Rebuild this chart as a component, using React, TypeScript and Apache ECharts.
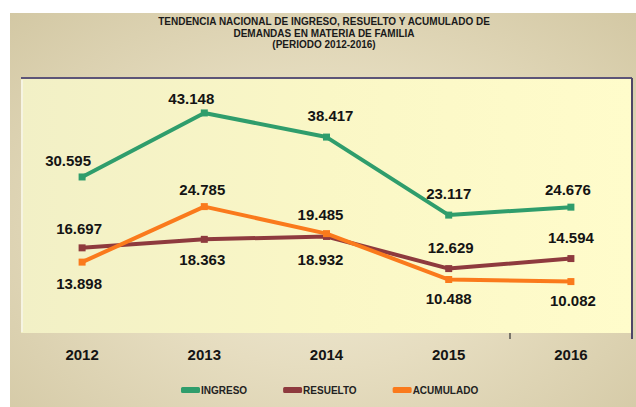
import React, { useEffect, useRef } from "react";
import * as echarts from "echarts";

const years = ["2012", "2013", "2014", "2015", "2016"];
const ingreso = [30595, 43148, 38417, 23117, 24676];
const resuelto = [16697, 18363, 18932, 12629, 14594];
const acumulado = [13898, 24785, 19485, 10488, 10082];
const titleLines = [
  "TENDENCIA NACIONAL DE INGRESO, RESUELTO Y ACUMULADO DE",
  "DEMANDAS EN MATERIA DE FAMILIA",
  "(PERIODO 2012-2016)",
];

// label offsets (label centre relative to point), pixels
const ingresoOff = [[-14, -16], [-13, -14], [4, -22], [0, -22], [-3, -18]];
const resueltoOff = [[-3, -19], [-2, 20], [-6, 23], [2, -21], [0, -21]];
const acumuladoOff = [[-3, 21], [-2, -17], [-6, -19], [0, 19], [2, 19]];

const fmt = (v: number) => {
  const s = String(v);
  return s.length > 3 ? s.slice(0, s.length - 3) + "." + s.slice(s.length - 3) : s;
};

function makeSeries(name: string, values: number[], offs: number[][], color: string) {
  return {
    name,
    type: "line",
    symbol: "rect",
    symbolSize: 7,
    lineStyle: { width: 4, color },
    itemStyle: { color },
    data: values.map((v, i) => ({
      value: v,
      label: { offset: offs[i] },
    })),
    label: {
      show: true,
      position: "inside",
      formatter: (p: any) => fmt(p.value),
      color: "#141414",
      fontSize: 15,
      fontWeight: "bold",
      fontFamily: "Liberation Sans, Arial, sans-serif",
    },
    z: 3,
  };
}

export default function App() {
  const ref = useRef<HTMLDivElement>(null);
  useEffect(() => {
    if (!ref.current) return;
    const chart = echarts.init(ref.current, undefined, { renderer: "svg" });
    chart.setOption({
      animation: false,
      backgroundColor: "transparent",
      grid: {
        left: 21,
        right: 4,
        top: 78,
        bottom: 74,
        show: true,
        borderWidth: 0,
        backgroundColor: {
          type: "linear",
          x: 0, y: 0, x2: 1, y2: 0,
          colorStops: [
            { offset: 0, color: "#F2F0C6" },
            { offset: 0.5, color: "#FAF7C6" },
            { offset: 1, color: "#FFFCCB" },
          ],
        },
      },
      xAxis: {
        type: "category",
        data: years,
        boundaryGap: true,
        axisLine: { show: false },
        axisTick: { show: false },
        axisLabel: {
          color: "#141414",
          fontSize: 15,
          fontWeight: "bold",
          fontFamily: "Liberation Sans, Arial, sans-serif",
          margin: 14,
        },
        splitLine: { show: false },
      },
      yAxis: {
        type: "value",
        min: 0,
        max: 50000,
        show: false,
      },
      legend: {
        data: ["INGRESO", "RESUELTO", "ACUMULADO"],
        left: 176,
        top: 380,
        itemWidth: 19,
        itemHeight: 6,
        itemGap: 36,
        icon: "roundRect",
        textStyle: {
          color: "#222",
          fontSize: 10,
          fontWeight: "bold",
          fontFamily: "Liberation Sans, Arial, sans-serif",
          padding: [0, 0, 0, -4],
        },
      },
      graphic: [
        {
          type: "text",
          x: 324,
          y: 16,
          z: 10,
          style: {
            text: titleLines.join("\n"),
            textAlign: "center",
            fill: "#1a1a1a",
            fontSize: 10,
            fontWeight: "bold",
            lineHeight: 11.5,
            fontFamily: "Liberation Sans, Arial, sans-serif",
          },
        },
        {
          type: "line",
          z: 10,
          shape: { x1: 21, y1: 78, x2: 632, y2: 78 },
          style: { stroke: "#5C5478", lineWidth: 2 },
        },
        {
          type: "line",
          z: 10,
          shape: { x1: 632, y1: 78, x2: 632, y2: 339 },
          style: { stroke: "#4E4668", lineWidth: 2 },
        },
        {
          type: "line",
          z: 10,
          shape: { x1: 22, y1: 80, x2: 22, y2: 332 },
          style: { stroke: "#F6F4E2", lineWidth: 2 },
        },
        {
          type: "line",
          z: 10,
          shape: { x1: 510, y1: 333, x2: 510, y2: 339 },
          style: { stroke: "#333333", lineWidth: 1.2 },
        },
      ],
      series: [
        makeSeries("INGRESO", ingreso, ingresoOff, "#2F9D6C"),
        makeSeries("RESUELTO", resuelto, resueltoOff, "#8E3A3E"),
        makeSeries("ACUMULADO", acumulado, acumuladoOff, "#FA7A1C"),
      ],
    });
    return () => chart.dispose();
  }, []);

  return (
    <div style={{ position: "fixed", left: 0, top: 0, width: 636, height: 407, background: "#ffffff" }}>
      <div
        style={{
          position: "absolute",
          left: 10,
          top: 13,
          width: 626,
          height: 394,
          background:
            "radial-gradient(ellipse at 50% 55%, #F1ECD8 0%, #E6DDC0 45%, #D3C8A4 100%)",
        }}
      />
      <div ref={ref} style={{ position: "absolute", left: 0, top: 0, width: 636, height: 407 }} />
    </div>
  );
}
